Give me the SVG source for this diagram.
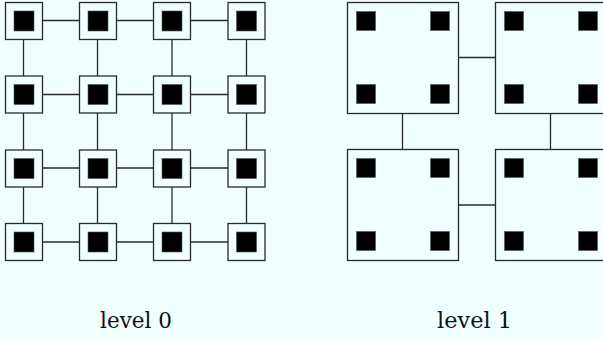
<svg xmlns="http://www.w3.org/2000/svg" width="603" height="339" viewBox="0 0 603 339">
<style>
.box{fill:#F0FFFF;stroke:#2a2a2a;stroke-width:1.3}
.blk{fill:#000;stroke:#555;stroke-width:0.6}
.con line{stroke:#2a2a2a;stroke-width:1.3}
.lbl{font-family:"DejaVu Serif","Liberation Serif",serif;font-size:22.5px;fill:#111;text-anchor:middle}
</style>
<defs>
<g id="small"><rect class="box" x="0" y="0" width="37" height="37"/><rect class="blk" x="8.5" y="8.5" width="20" height="20"/></g>
<g id="big"><rect class="box" x="0" y="0" width="111" height="111"/><rect class="blk" x="9" y="9" width="19" height="19"/><rect class="blk" x="83" y="9" width="19" height="19"/><rect class="blk" x="9" y="82" width="19" height="19"/><rect class="blk" x="83" y="82" width="19" height="19"/></g>
</defs>
<rect width="603" height="339" fill="#F0FFFF"/>
<g id="connectors" class="con">
<line x1="42" y1="20.5" x2="79" y2="20.5"/><line x1="116" y1="20.5" x2="153" y2="20.5"/><line x1="190" y1="20.5" x2="228" y2="20.5"/>
<line x1="42" y1="94.5" x2="79" y2="94.5"/><line x1="116" y1="94.5" x2="153" y2="94.5"/><line x1="190" y1="94.5" x2="228" y2="94.5"/>
<line x1="42" y1="168" x2="79" y2="168"/><line x1="116" y1="168" x2="153" y2="168"/><line x1="190" y1="168" x2="228" y2="168"/>
<line x1="42" y1="242" x2="79" y2="242"/><line x1="116" y1="242" x2="153" y2="242"/><line x1="190" y1="242" x2="228" y2="242"/>
<line x1="23.5" y1="39" x2="23.5" y2="76"/><line x1="23.5" y1="113" x2="23.5" y2="150"/><line x1="23.5" y1="187" x2="23.5" y2="223"/>
<line x1="97.5" y1="39" x2="97.5" y2="76"/><line x1="97.5" y1="113" x2="97.5" y2="150"/><line x1="97.5" y1="187" x2="97.5" y2="223"/>
<line x1="172" y1="39" x2="172" y2="76"/><line x1="172" y1="113" x2="172" y2="150"/><line x1="172" y1="187" x2="172" y2="223"/>
<line x1="246.5" y1="39" x2="246.5" y2="76"/><line x1="246.5" y1="113" x2="246.5" y2="150"/><line x1="246.5" y1="187" x2="246.5" y2="223"/>
<line x1="458" y1="57.5" x2="495" y2="57.5"/><line x1="458" y1="205" x2="495" y2="205"/>
<line x1="402.5" y1="113" x2="402.5" y2="149"/><line x1="550.5" y1="113" x2="550.5" y2="149"/>
</g>
<g id="n00"><use href="#small" x="5.5" y="2.5"/></g>
<g id="n01"><use href="#small" x="79.5" y="2.5"/></g>
<g id="n02"><use href="#small" x="153.5" y="2.5"/></g>
<g id="n03"><use href="#small" x="228" y="2.5"/></g>
<g id="n10"><use href="#small" x="5.5" y="76"/></g>
<g id="n11"><use href="#small" x="79.5" y="76"/></g>
<g id="n12"><use href="#small" x="153.5" y="76"/></g>
<g id="n13"><use href="#small" x="228" y="76"/></g>
<g id="n20"><use href="#small" x="5.5" y="150"/></g>
<g id="n21"><use href="#small" x="79.5" y="150"/></g>
<g id="n22"><use href="#small" x="153.5" y="150"/></g>
<g id="n23"><use href="#small" x="228" y="150"/></g>
<g id="n30"><use href="#small" x="5.5" y="223.5"/></g>
<g id="n31"><use href="#small" x="79.5" y="223.5"/></g>
<g id="n32"><use href="#small" x="153.5" y="223.5"/></g>
<g id="n33"><use href="#small" x="228" y="223.5"/></g>
<g id="b00"><use href="#big" x="347.5" y="2.5"/></g>
<g id="b01"><use href="#big" x="495.5" y="2.5"/></g>
<g id="b10"><use href="#big" x="347.5" y="149.5"/></g>
<g id="b11"><use href="#big" x="495.5" y="149.5"/></g>
<text class="lbl" x="136" y="328" textLength="72" lengthAdjust="spacingAndGlyphs">level 0</text>
<text class="lbl" x="474.5" y="328" textLength="75" lengthAdjust="spacingAndGlyphs">level 1</text>
</svg>
